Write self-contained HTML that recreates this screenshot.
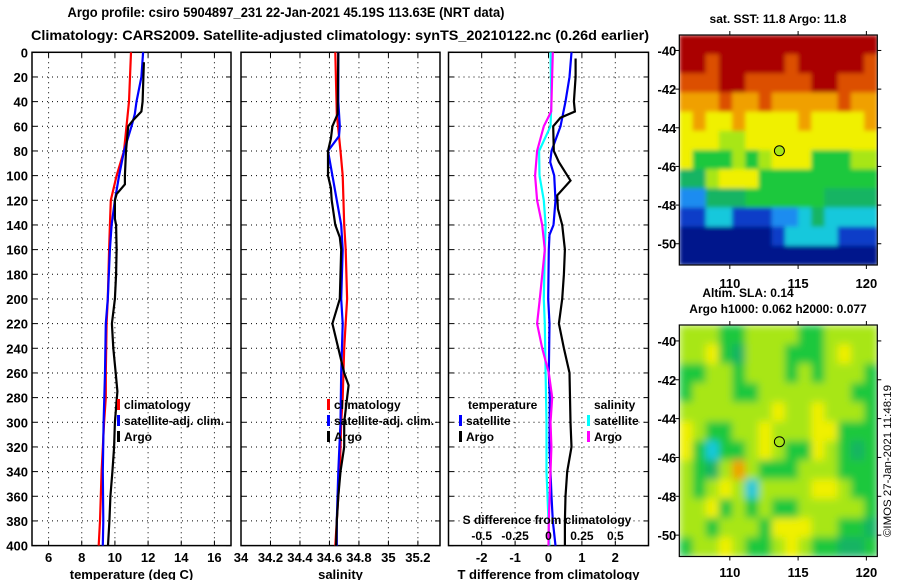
<!DOCTYPE html>
<html><head><meta charset="utf-8"><style>
html,body{margin:0;padding:0;background:#fff}
svg{display:block}
text{font-family:"Liberation Sans",Arial,sans-serif;font-weight:bold;fill:#000}
</style></head><body>
<svg id="c" width="900" height="580" viewBox="0 0 900 580" xmlns="http://www.w3.org/2000/svg">
<defs>
<filter id="blur1" x="0" y="0" width="1" height="1"><feGaussianBlur stdDeviation="2"/></filter>
<filter id="blur2" x="0" y="0" width="1" height="1"><feGaussianBlur stdDeviation="4"/></filter>
<clipPath id="clip1"><rect x="679.3" y="35" width="198" height="230"/></clipPath>
<clipPath id="clip2"><rect x="679.3" y="325" width="198" height="231.5"/></clipPath>
</defs>
</svg>
<script>
// ---- data ----
const depthTicks=[0,20,40,60,80,100,120,140,160,180,200,220,240,260,280,300,320,340,360,380,400];
const tTicks=[6,8,10,12,14,16];
const sTicks=[34,34.2,34.4,34.6,34.8,35,35.2];
const sTickLabels=["34","34.2","34.4","34.6","34.8","35","35.2"];
const dtTicks=[-2,-1,0,1,2];
const dsTicks=[-0.5,-0.25,0,0.25,0.5];
const dsTickLabels=["-0.5","-0.25","0","0.25","0.5"];

const climTD=[0,40,60,80,100,120,140,160,200,220,260,280,300,340,380,400];
const climT=[10.97,10.85,10.7,10.55,10.1,9.75,9.7,9.65,9.57,9.5,9.45,9.45,9.35,9.2,9.1,9.02];
const satTD=[0,20,40,50,60,80,100,120,140,160,200,220,260,300,340,380,400];
const satT=[11.7,11.6,11.3,11.2,11.0,10.55,10.25,10.0,9.8,9.7,9.57,9.45,9.4,9.32,9.27,9.3,9.27];
const argoTD=[8,20,40,48,55,60,80,100,107,115,120,135,140,160,180,200,220,240,260,275,300,320,340,360,380,400];
const argoT=[11.75,11.72,11.67,11.6,11.1,10.8,10.67,10.6,10.6,10.1,10.0,10.0,10.07,10.1,10.07,10.0,9.82,9.9,10.05,10.15,10.0,9.95,9.85,9.73,9.67,9.58];

const climSD=[0,50,80,100,140,160,200,240,280,300,340,380,400];
const climS=[34.64,34.65,34.675,34.69,34.70,34.71,34.72,34.70,34.69,34.68,34.67,34.65,34.64];
const satSD=[0,40,60,68,80,100,120,140,160,200,220,260,300,340,380,400];
const satS=[34.66,34.66,34.67,34.665,34.59,34.62,34.65,34.68,34.69,34.68,34.69,34.68,34.675,34.66,34.65,34.65];
const argoSD=[0,50,60,70,80,100,110,120,140,150,160,200,220,240,260,270,300,320,340,360,380,400];
const argoS=[34.66,34.655,34.62,34.61,34.59,34.59,34.61,34.615,34.64,34.67,34.68,34.67,34.62,34.66,34.70,34.73,34.70,34.70,34.675,34.66,34.65,34.645];

const dSatTD=[0,20,40,60,80,89,100,120,140,148,160,200,220,260,280,320,360,380,400];
const dSatT=[0.69,0.63,0.51,0.36,0.09,0.05,0.17,0.21,0.15,0.03,0.01,-0.01,0.03,0.01,0.04,0.03,0.09,0.13,0.21];
const dArgoTD=[5,20,40,48,53,60,80,89,104,116,127,140,160,180,200,220,240,260,300,320,340,360,380,400];
const dArgoT=[0.81,0.81,0.76,0.79,0.36,0.14,0.16,0.31,0.66,0.26,0.28,0.41,0.49,0.46,0.41,0.31,0.46,0.63,0.66,0.69,0.56,0.51,0.49,0.49];
const dSatSD=[0,40,60,70,80,100,120,140,160,200,220,260,300,340,380,400];
const dSatS=[0.015,0.022,0.015,-0.028,-0.07,-0.067,-0.035,-0.022,-0.028,-0.035,-0.028,-0.022,-0.015,-0.015,0,0.007];
const dArgoSD=[0,48,60,80,100,120,140,160,200,220,240,260,280,300,320,340,380,400];
const dArgoS=[0.032,0.02,-0.035,-0.085,-0.10,-0.085,-0.047,-0.028,-0.065,-0.085,-0.047,0.002,0.028,0.015,0.022,0.015,0.002,0];

const latTicks=[-40,-42,-44,-46,-48,-50];
const lonTicks=[110,115,120];
const sstGrid=[
[10,10,10,10,10,10,10,10,10,10,10,10,10,10,10],
[10,10,9,10,10,10,10,10,9,10,10,10,10,10,9],
[9,9,9,10,10,9,9,9,9,9,10,10,9,9,9],
[8,8,8,9,8,8,9,8,8,8,8,8,9,8,8],
[7,8,7,7,8,7,7,7,7,8,7,7,7,7,8],
[7,7,7,6,6,7,7,7,7,7,7,7,7,7,7],
[7,5,5,5,6,5,6,7,7,7,5,5,5,6,6],
[4,4,6,7,7,7,5,5,5,5,5,5,5,5,5],
[2,2,4,4,4,5,5,5,5,5,5,4,4,4,4],
[1,1,3,3,1,1,1,2,2,3,4,3,3,3,3],
[0,0,0,0,0,0,0,1,3,3,3,3,1,1,1],
[0,0,0,0,0,0,0,0,0,0,0,0,0,0,0]];
const slaGrid=[
[6,6,6,5,5,6,6,6,6,5,5,6,6,6,6],
[6,6,7,5,4,6,6,6,5,5,5,6,7,6,6],
[5,5,6,6,5,6,6,6,5,6,5,6,6,6,5],
[5,6,6,6,5,5,6,6,6,6,6,6,6,5,5],
[6,6,6,6,6,6,6,7,6,6,7,6,6,6,5],
[7,6,5,5,6,6,7,6,6,6,7,7,5,5,5],
[7,5,3,5,5,6,7,6,5,5,7,6,5,4,5],
[6,5,4,6,8,6,5,5,5,6,6,6,5,5,5],
[6,5,6,7,6,3,6,6,6,6,7,7,6,5,5],
[6,6,7,5,6,5,6,5,5,6,6,6,6,6,5],
[6,6,5,6,6,6,5,7,7,7,6,6,5,5,4],
[5,6,6,7,6,5,5,6,7,6,5,5,4,4,5]];
const floatLon=113.63, floatLat=-45.19;

// ---- drawing ----
const NS="http://www.w3.org/2000/svg";
const svg=document.getElementById('c');
function mk(tag,at,parent){const e=document.createElementNS(NS,tag);for(const k in at)e.setAttribute(k,at[k]);(parent||svg).appendChild(e);return e;}
function txt(x,y,s,anchor,size,parent){const t=mk('text',{x:x,y:y,'text-anchor':anchor||'middle','font-size':size||12},parent);t.textContent=s;return t;}
const Y0=52.3,Y1=545.6;
const yD=d=>Y0+(d/400)*(Y1-Y0);

function panel(name,x0,x1,dom,ticks,labels,title){
  const g=mk('g',{});
  
  
  const xs=v=>x0+(v-dom[0])/(dom[1]-dom[0])*(x1-x0);
  depthTicks.forEach(d=>{const y=yD(d);
    if(d>0&&d<400)mk('line',{x1:x0,x2:x1,y1:y,y2:y,stroke:'#000','stroke-width':1,'stroke-dasharray':'1,4'},g);
    mk('line',{x1:x0,x2:x0+5,y1:y,y2:y,stroke:'#000'},g);mk('line',{x1:x1-5,x2:x1,y1:y,y2:y,stroke:'#000'},g);});
  ticks.forEach((v,i)=>{const x=xs(v);
    if(x>x0+1&&x<x1-1){mk('line',{x1:x,x2:x,y1:Y0,y2:Y1,stroke:'#000','stroke-dasharray':'1,4'},g);
    mk('line',{x1:x,x2:x,y1:Y0,y2:Y0+5,stroke:'#000'},g);mk('line',{x1:x,x2:x,y1:Y1-5,y2:Y1,stroke:'#000'},g);}
    const t=txt(x,562,labels[i],'middle',13,g);
    
    });
  mk('rect',{x:x0,y:Y0,width:x1-x0,height:Y1-Y0,fill:'none',stroke:'#000','stroke-width':1.5},g);
  if(title){const t=txt((x0+x1)/2,579,title,'middle',13,g);
    
    }
  return {g,xs};
}
function series(p,name,ds,vs,color){
  const pts=ds.map((d,i)=>p.xs(vs[i]).toFixed(1)+','+yD(d).toFixed(1)).join(' ');
  const l=mk('polyline',{points:pts,fill:'none',stroke:color,'stroke-width':2.2,'stroke-linejoin':'miter'},p.g);
  
  
}
function legend(x,y,color,label,parent){
  mk('rect',{x:x-1,y:y-10,width:3,height:11,fill:color},parent);
  const t=txt(x+6,y,label,'start',12,parent);
  
  
}
// titles
let t1=txt(286,17,'Argo profile: csiro 5904897_231 22-Jan-2021 45.19S 113.63E (NRT data)','middle',13.5);
t1.setAttribute('textLength','437');
t1.setAttribute('lengthAdjust','spacingAndGlyphs');


let t2=txt(340,40,'Climatology: CARS2009. Satellite-adjusted climatology: synTS_20210122.nc (0.26d earlier)','middle',14);
t2.setAttribute('textLength','618');
t2.setAttribute('lengthAdjust','spacingAndGlyphs');


// depth labels
depthTicks.forEach(d=>{const t=txt(28,yD(d)+5,String(d),'end',13);
  
  });

const p1=panel('temperature-panel',32,231,[5,17],tTicks,tTicks.map(String),'temperature (deg C)');
series(p1,'temperature-climatology-line',climTD,climT,'#f00');
series(p1,'temperature-satellite-line',satTD,satT,'#00f');
series(p1,'temperature-argo-line',argoTD,argoT,'#000');
legend(118,409,'#f00','climatology',p1.g);legend(118,425,'#00f','satellite-adj. clim.',p1.g);legend(118,441,'#000','Argo',p1.g);

const p2=panel('salinity-panel',241,440,[34,35.35],sTicks,sTickLabels,'salinity');
series(p2,'salinity-climatology-line',climSD,climS,'#f00');
series(p2,'salinity-satellite-line',satSD,satS,'#00f');
series(p2,'salinity-argo-line',argoSD,argoS,'#000');
legend(328,409,'#f00','climatology',p2.g);legend(328,425,'#00f','satellite-adj. clim.',p2.g);legend(328,441,'#000','Argo',p2.g);

const p3=panel('difference-panel',448.5,648.5,[-2.994,2.994],dtTicks,dtTicks.map(String),'T difference from climatology');
series(p3,'temperature-satellite-diff-line',dSatTD,dSatT,'#00f');
series(p3,'temperature-argo-diff-line',dArgoTD,dArgoT,'#000');
const sxs=v=>548.5+v*133.6;
const p3s={g:p3.g,xs:sxs};
series(p3s,'salinity-satellite-diff-line',dSatSD,dSatS,'#0ff');
series(p3s,'salinity-argo-diff-line',dArgoSD,dArgoS,'#f0f');
txt(468,409,'temperature','start',12,p3.g);txt(594,409,'salinity','start',12,p3.g);
legend(460,425,'#00f','satellite',p3.g);legend(460,441,'#000','Argo',p3.g);
legend(588,425,'#0ff','satellite',p3.g);legend(588,441,'#f0f','Argo',p3.g);
txt(547,524,'S difference from climatology','middle',12,p3.g);
dsTicks.forEach((v,i)=>{const t=txt(sxs(v),540,dsTickLabels[i],'middle',12,p3.g);
  
  });

// maps
const pal=['#00188c','#0a3cc8','#1e8cf0','#19c8dc','#14b464','#1ec83c','#a8e614','#f0f000','#f0a000','#dc5000','#aa0000'];
function map(name,y0,y1,latTop,latBot,grid,lblY,clip,blur){
  const g=mk('g',{});
  
  
  const x0=679.3,x1=877.3,lonL=106.3,lonR=120.8;
  const xs=lo=>x0+(lo-lonL)/(lonR-lonL)*(x1-x0);
  const ys=la=>y0+(latTop-la)/(latTop-latBot)*(y1-y0);
  const rows=grid.length,cols=grid[0].length,cw=(x1-x0)/cols,rh=(y1-y0)/rows;
  const cg=mk('g',{'clip-path':'url(#'+clip+')'},g);
  const bg=mk('g',{filter:'url(#'+blur+')'},cg);
  grid.forEach((row,r)=>row.forEach((v,c)=>{
    const cell=mk('rect',{x:(x0+c*cw).toFixed(2),y:(y0+r*rh).toFixed(2),width:(cw+0.6).toFixed(2),height:(rh+0.6).toFixed(2),fill:pal[v]},bg);
    
    }));
  mk('rect',{x:x0,y:y0,width:x1-x0,height:y1-y0,fill:'none',stroke:'#000','stroke-width':1.2},g);
  latTicks.forEach(la=>{const y=ys(la);
    mk('line',{x1:x0-4,x2:x0,y1:y,y2:y,stroke:'#000'},g);mk('line',{x1:x1,x2:x1+4,y1:y,y2:y,stroke:'#000'},g);
    const lt=txt(x0-3,y+5,String(la),'end',13,g);
    
    });
  lonTicks.forEach(lo=>{const x=xs(lo);
    mk('line',{x1:x,x2:x,y1:y0-4,y2:y0,stroke:'#000'},g);mk('line',{x1:x,x2:x,y1:y1,y2:y1+4,stroke:'#000'},g);
    txt(x,lblY,String(lo),'middle',13,g);});
  const c=mk('circle',{cx:xs(floatLon),cy:ys(floatLat),r:5,fill:pal[6],stroke:'#000','stroke-width':1},g);
  
  
}
txt(778,23,'sat. SST: 11.8 Argo: 11.8','middle',12);
map('sst-map',35,265,-39.2,-51.1,sstGrid,288,'clip1','blur1');
txt(748,297,'Altim. SLA: 0.14','middle',12);
txt(778,313,'Argo h1000: 0.062 h2000: 0.077','middle',12);
map('sla-map',325,556.5,-39.18,-51.1,slaGrid,577,'clip2','blur2');
const cr=txt(0,0,'©IMOS 27-Jan-2021 11:48:19','middle',11);
cr.setAttribute('transform','translate(891,461) rotate(-90)');
cr.setAttribute('style','font-weight:normal');
cr.setAttribute('textLength','152');
cr.setAttribute('lengthAdjust','spacingAndGlyphs');


</script>
</body></html>
